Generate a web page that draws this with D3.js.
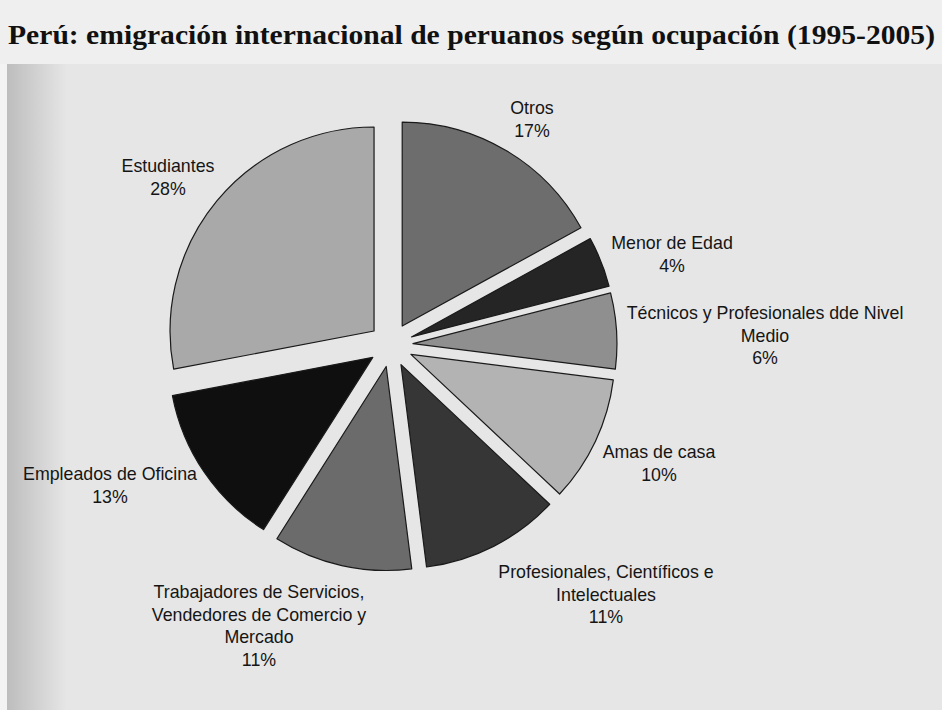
<!DOCTYPE html>
<html>
<head>
<meta charset="utf-8">
<script src="https://cdn.jsdelivr.net/npm/d3@7"></script>
<style>
  html, body { margin: 0; padding: 0; background: #e8e8e8; }
  svg { display: block; }
</style>
</head>
<body>
<script>
// chart data
const categories = [
  "Otros",
  "Menor de Edad",
  "Técnicos y Profesionales dde Nivel|Medio",
  "Amas de casa",
  "Profesionales, Científicos e|Intelectuales",
  "Trabajadores de Servicios,|Vendedores de Comercio y|Mercado",
  "Empleados de Oficina",
  "Estudiantes"
];
const percents = [17, 4, 6, 10, 11, 11, 13, 28];
const title = "Perú: emigración internacional de peruanos según ocupación (1995-2005)";

// layout / style
const width = 942, height = 710;
const cx = 391, cy = 345, radius = 204, explode = 22;
const fills = ["#6d6d6d", "#252525", "#8f8f8f", "#b3b3b3", "#363636", "#6b6b6b", "#0f0f0f", "#a9a9a9"];
// label anchor: [center x, first baseline]
const labelPos = [
  [532, 114], [672, 249], [765, 319], [659, 458],
  [606, 578], [259, 598], [110, 480], [168, 172]
];
const lineGap = 22.5;

const svg = d3.select("body").append("svg")
  .attr("width", width)
  .attr("height", height);

// scanned page background
const defs = svg.append("defs");
const grad = defs.append("linearGradient").attr("id", "shade")
  .attr("x1", 0).attr("x2", 1).attr("y1", 0).attr("y2", 0);
grad.append("stop").attr("offset", 0).attr("stop-color", "#bdbdbd");
grad.append("stop").attr("offset", 1).attr("stop-color", "#e6e6e6");

svg.append("rect").attr("width", width).attr("height", height).attr("fill", "#e6e6e6");
svg.append("rect").attr("width", width).attr("height", 64).attr("fill", "#efefef");
svg.append("rect").attr("x", 0).attr("y", 64).attr("width", 7).attr("height", height - 64).attr("fill", "#f3f3f3");
svg.append("rect").attr("x", 7).attr("y", 64).attr("width", 60).attr("height", height - 64).attr("fill", "url(#shade)");

// title
svg.append("text")
  .attr("x", 8)
  .attr("y", 44)
  .attr("textLength", 927)
  .attr("lengthAdjust", "spacingAndGlyphs")
  .style("font-family", "'Liberation Serif', 'DejaVu Serif', serif")
  .style("font-weight", "bold")
  .style("font-size", "27px")
  .attr("fill", "#111")
  .text(title);

// pie
const pie = d3.pie().sort(null).value(d => d)(percents);
const arc = d3.arc().innerRadius(0).outerRadius(radius);

const g = svg.append("g").attr("transform", `translate(${cx},${cy})`);

g.selectAll("path.slice")
  .data(pie)
  .enter()
  .append("path")
  .attr("class", "slice")
  .attr("transform", d => {
    const a = (d.startAngle + d.endAngle) / 2;
    return `translate(${explode * Math.sin(a)},${-explode * Math.cos(a)})`;
  })
  .attr("d", arc)
  .attr("fill", (d, i) => fills[i])
  .attr("stroke", "#1a1a1a")
  .attr("stroke-width", 1.2)
  .attr("stroke-linejoin", "round");

// labels
const labels = svg.append("g")
  .style("font-family", "'Liberation Sans', Arial, sans-serif")
  .style("font-size", "17.8px")
  .attr("fill", "#151515")
  .attr("text-anchor", "middle");

categories.forEach((c, i) => {
  const lines = c.split("|").concat([percents[i] + "%"]);
  const t = labels.append("text");
  lines.forEach((ln, j) => {
    t.append("tspan")
      .attr("x", labelPos[i][0])
      .attr("y", labelPos[i][1] + j * lineGap)
      .text(ln);
  });
});
</script>
</body>
</html>
